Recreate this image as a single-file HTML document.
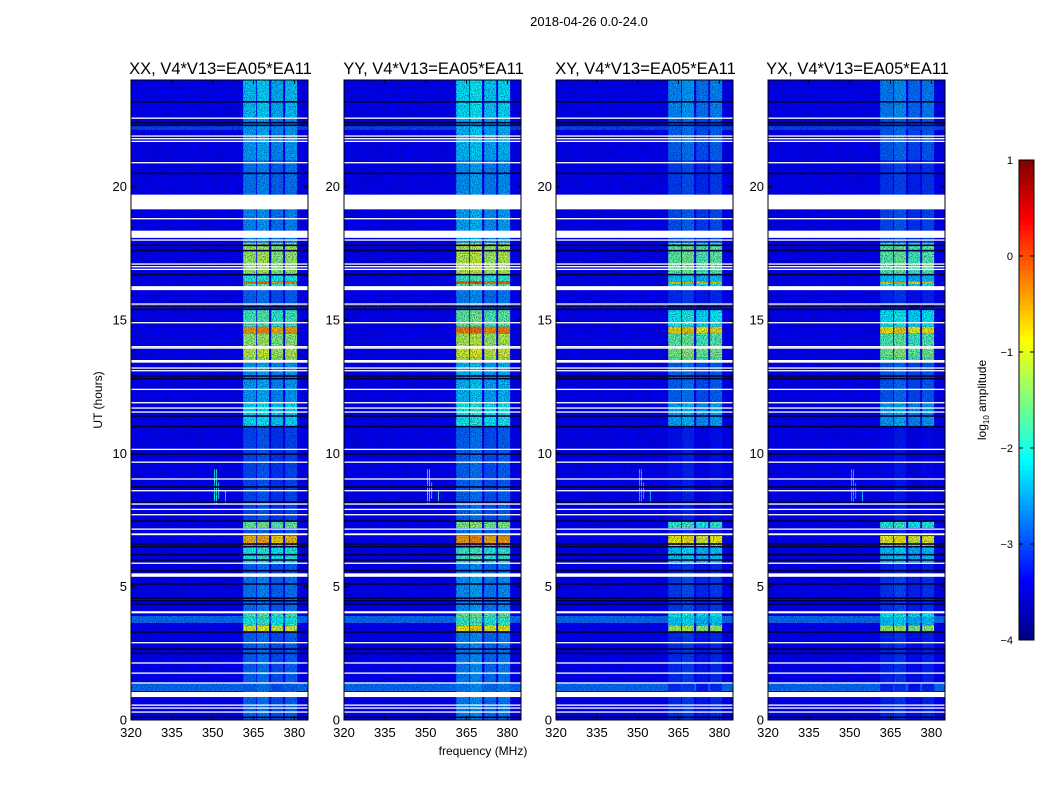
<!DOCTYPE html>
<html><head><meta charset="utf-8">
<style>
html,body{margin:0;padding:0;background:#fff;}
svg text{font-family:"Liberation Sans",sans-serif;fill:#000;}
</style></head>
<body>
<svg id="fig" width="1050" height="800" xmlns="http://www.w3.org/2000/svg">
<defs>
<filter id="speckle" x="0" y="0" width="100%" height="100%">
<feTurbulence type="fractalNoise" baseFrequency="0.9" numOctaves="1" seed="3"/>
<feColorMatrix type="matrix" values="0 0 0 0 0  0 0 0 0 0  0 0 0 0 0.1  3 0 0 0 -1.2"/>
</filter>
</defs>
<text x="589" y="26" font-size="13" text-anchor="middle">2018-04-26 0.0-24.0</text>
<text x="483" y="755" font-size="12" text-anchor="middle">frequency (MHz)</text>
<text transform="translate(102,400) rotate(-90)" font-size="12" text-anchor="middle">UT (hours)</text>
<g id="panels"></g>
<g id="cbar"></g>
</svg>
<script>
// ---- data ----
const panelTitles = ["XX, V4*V13=EA05*EA11","YY, V4*V13=EA05*EA11","XY, V4*V13=EA05*EA11","YX, V4*V13=EA05*EA11"];
const panelOffset = [0, 0.15, -0.3, -0.35];
const freqTicks = [320,335,350,365,380];
const timeTicks = [0,5,10,15,20];
const cbarTicks = [1,0,-1,-2,-3,-4];
// RFI band edges (MHz) and relative level
const bandStart = [361.2,366.3,371.5,376.6];
const bandEnd   = [366.0,370.7,375.9,381.0];
const bandRel   = [0, 0.1, -0.1, 0];
// band level segments (hours, log10 amplitude)
const segStart = [0,1.4,3.3,3.55,3.85,4.0,5.4,5.9,6.5,6.9,7.2,7.45,11.0,11.9,13.4,13.6,14.0,14.5,14.75,15.4,16.2,16.35,16.45,16.7,17.9,19.2,21.0,22.6];
const segEnd   = [1.4,3.3,3.55,3.85,4.0,5.4,5.9,6.5,6.9,7.2,7.45,11.0,11.9,13.4,13.6,14.0,14.5,14.75,15.4,16.2,16.35,16.45,16.7,17.9,19.2,21.0,22.6,24];
const segLevel = [-2.85,-2.85,-1.0,-2.0,-1.8,-2.75,-2.85,-2.0,-0.6,-2.9,-1.6,-3.0,-2.2,-2.55,-1.4,-1.2,-1.4,-0.45,-1.8,-2.85,-1.8,-0.3,-2.0,-1.35,-2.65,-2.75,-2.55,-2.35];
// background (broadband) segments
const bgStart = [0,1.09,1.39,3.65,3.9,15.45,15.55,22.15,22.3];
const bgEnd   = [1.09,1.39,3.65,3.9,15.45,15.55,22.15,22.3,24];
const bgLevel = [-3.4,-2.8,-3.4,-2.8,-3.4,-2.9,-3.4,-3.0,-3.4];
// flagged (white) blocks and lines
const flagStart = [0.86,4.0,5.37,6.93,13.4,16.12,18.08,19.15];
const flagEnd   = [1.05,4.08,5.5,7.0,13.5,16.27,18.35,19.7];
const whiteLines = [0.3,0.45,0.56,1.39,1.76,2.14,2.9,5.88,7.16,7.7,7.9,8.1,8.6,9.04,9.67,10.15,11.55,11.7,11.9,12.4,13.1,13.2,13.95,14.0,14.9,15.6,16.9,17.0,17.1,18.0,18.8,20.9,21.7,21.8,21.9,22.57];
const darkLines = [0.1,2.5,2.66,3.3,4.35,4.47,4.57,5.1,5.6,6.0,6.2,6.5,6.6,7.46,8.17,8.74,9.97,11.0,11.4,12.8,12.9,15.4,15.5,16.7,17.6,17.8,20.5,22.3,22.4,23.18];
// narrow RFI spikes
const spikeFreq = [350.5,351.2,352.0,354.5];
const spikeT0 = [8.1,8.1,8.3,8.1];
const spikeT1 = [9.4,9.4,8.9,8.6];

// ---- helpers ----
const NS="http://www.w3.org/2000/svg";
const panelX=[131,344,556,768], PW=177, PT=80, PB=720;
function xs(p,f){return panelX[p]+(f-320)/(385-320)*PW;}
function ys(h){return PB-(h/24)*(PB-PT);}
function jet(v){let t=Math.max(0,Math.min(1,(v+4)/5));
 const c=x=>Math.round(255*Math.max(0,Math.min(1,x)));
 return `rgb(${c(Math.min(4*t-1.5,-4*t+4.5))},${c(Math.min(4*t-0.5,-4*t+3.5))},${c(Math.min(4*t+0.5,-4*t+2.5))})`;}
function mk(tag,attrs,parent){const e=document.createElementNS(NS,tag);for(const k in attrs)e.setAttribute(k,attrs[k]);parent.appendChild(e);return e;}
const root=document.getElementById('panels');
for(let p=0;p<4;p++){
 const g=mk('g',{},root);
 
 
 for(let i=0;i<bgStart.length;i++){
  const r=mk('rect',{x:xs(p,320),y:ys(bgEnd[i]),width:PW,height:ys(bgStart[i])-ys(bgEnd[i]),fill:jet(bgLevel[i])},g);
  
  
 }
 for(let i=0;i<segStart.length;i++)for(let b=0;b<4;b++){
  const r=mk('rect',{x:xs(p,bandStart[b]),y:ys(segEnd[i]),width:xs(p,bandEnd[b])-xs(p,bandStart[b]),height:ys(segStart[i])-ys(segEnd[i]),fill:jet(segLevel[i]+bandRel[b]+panelOffset[p])},g);
  
  
 }
 for(let i=0;i<spikeFreq.length;i++){
  const r=mk('rect',{x:xs(p,spikeFreq[i]),y:ys(spikeT1[i]),width:1,height:ys(spikeT0[i])-ys(spikeT1[i]),fill:jet(-2.0+panelOffset[p])},g);
  
  
 }
 const sp=mk('rect',{x:panelX[p],y:PT,width:PW,height:PB-PT,filter:'url(#speckle)',opacity:0.55},g);
 
 
 for(const h of darkLines){
  const r=mk('rect',{x:xs(p,320),y:ys(h)-0.8,width:PW,height:1.6,fill:'#00003a'},g);
  
  
 }
 for(const h of whiteLines){
  const r=mk('rect',{x:xs(p,320),y:ys(h)-0.6,width:PW,height:1.3,fill:'#fff'},g);
  
  
 }
 for(let i=0;i<flagStart.length;i++){
  const r=mk('rect',{x:xs(p,320),y:ys(flagEnd[i]),width:PW,height:ys(flagStart[i])-ys(flagEnd[i]),fill:'#fff'},g);
  
  
 }
 const fr=mk('rect',{x:panelX[p],y:PT,width:PW,height:PB-PT,fill:'none',stroke:'#000','stroke-width':1},g);
 
 
 const t=mk('text',{x:panelX[p]+PW/2+1,y:74,'font-size':16.5,'text-anchor':'middle'},g);
 t.textContent=panelTitles[p];
 
 
 for(const f of freqTicks){
  const x=xs(p,f);
  mk('line',{x1:x,x2:x,y1:PB,y2:PB-4,stroke:'#000'},g);
  mk('line',{x1:x,x2:x,y1:PT,y2:PT+4,stroke:'#000'},g);
  const l=mk('text',{x:x,y:737,'font-size':13,'text-anchor':'middle'},g);
  l.textContent=f;
  
  
 }
 for(const h of timeTicks){
  const y=ys(h);
  mk('line',{x1:panelX[p],x2:panelX[p]+4,y1:y,y2:y,stroke:'#000'},g);
  mk('line',{x1:panelX[p]+PW,x2:panelX[p]+PW-4,y1:y,y2:y,stroke:'#000'},g);
  const l=mk('text',{x:panelX[p]-4,y:y+4.5,'font-size':13,'text-anchor':'end'},g);
  l.textContent=h;
  
  
 }
}
// colorbar
const cb=document.getElementById('cbar');


const CT=160,CB=640,CX=1019,CW=15;
function cy(v){return CB-(v+4)/5*(CB-CT);}
for(let i=0;i<96;i++){const v=-4+i*5/96;
 const r=mk('rect',{x:CX,y:cy(v+5/96),width:CW,height:(CB-CT)/96+0.5,fill:jet(v+2.5/96)},cb);
 
 }
mk('rect',{x:CX,y:CT,width:CW,height:CB-CT,fill:'none',stroke:'#000'},cb);
for(const v of cbarTicks){const y=cy(v);
 mk('line',{x1:CX,x2:CX+4,y1:y,y2:y,stroke:'#000'},cb);
 mk('line',{x1:CX+CW,x2:CX+CW-4,y1:y,y2:y,stroke:'#000'},cb);
 const l=mk('text',{x:1013,y:y+4,'font-size':11,'text-anchor':'end'},cb);
 l.textContent=v<0?'\u2212'+(-v):String(v);
 
 }
const cl=mk('text',{transform:'translate(986,400) rotate(-90)','font-size':12,'text-anchor':'middle'},cb);
cl.innerHTML='log<tspan font-size="8" dy="3">10</tspan><tspan dy="-3"> amplitude</tspan>';


</script>
</body></html>
